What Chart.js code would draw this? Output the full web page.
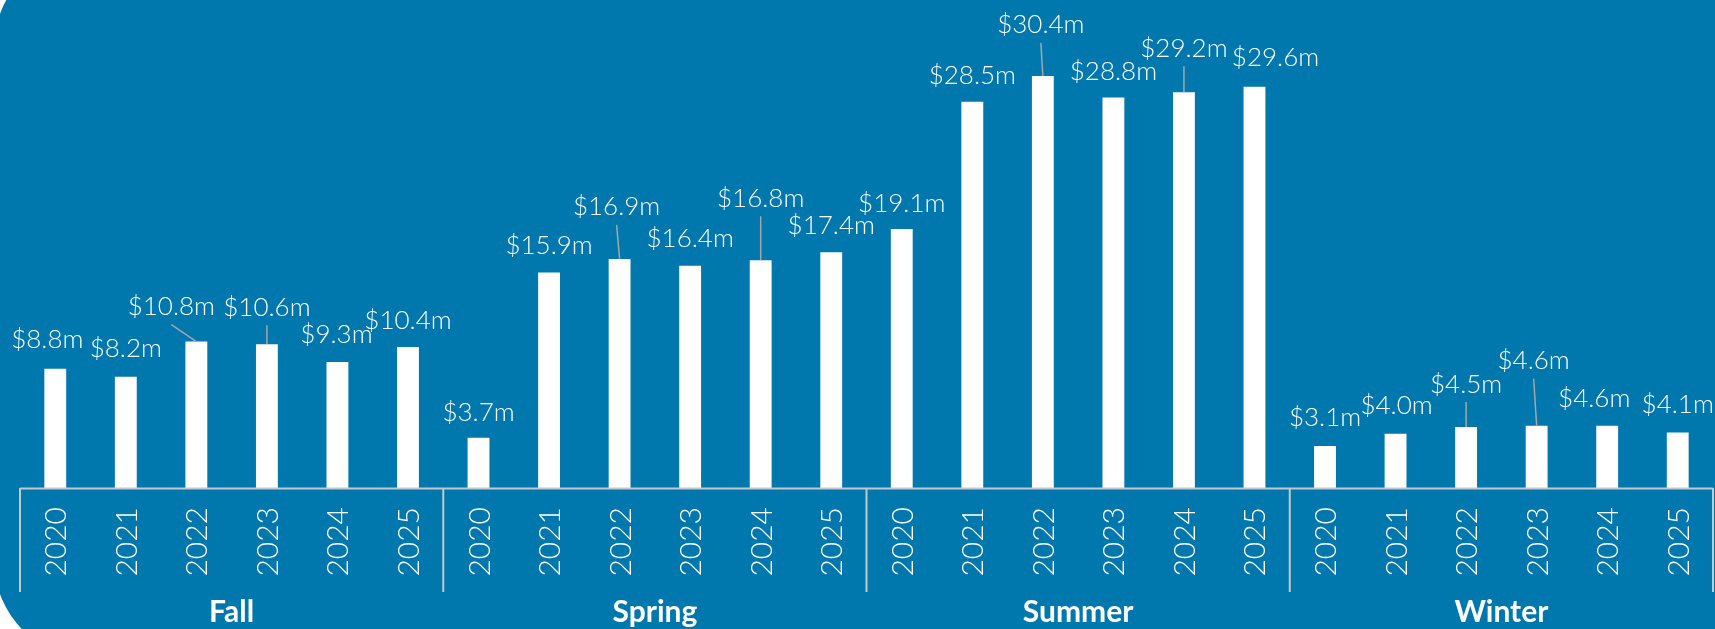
<!DOCTYPE html>
<html>
<head>
<meta charset="utf-8">
<script src="https://cdn.jsdelivr.net/npm/chart.js@4/dist/chart.umd.min.js"></script>
<style>
    html, body { margin: 0; padding: 0; background: #ffffff; overflow: hidden; }
    .panel {
        position: absolute;
        left: -6px; top: -52px;
        width: 1780px; height: 712px;
        background: #0077ad;
        border-radius: 100px;
    }
    .chartBox { position: absolute; left: 0; top: 0; width: 1715px; height: 629px; }
</style>
</head>
<body>
<div class="panel"></div>
<div class="chartBox"><canvas id="myChart"></canvas></div>
<script>
// data ($ millions)
const seasons = ['Fall', 'Spring', 'Summer', 'Winter'];
const years = ['2020', '2021', '2022', '2023', '2024', '2025'];
const fall = [8.8, 8.2, 10.8, 10.6, 9.3, 10.4];
const spring = [3.7, 15.9, 16.9, 16.4, 16.8, 17.4];
const summer = [19.1, 28.5, 30.4, 28.8, 29.2, 29.6];
const winter = [3.1, 4.0, 4.5, 4.6, 4.6, 4.1];
const yMin = 0;
const yMax = 36;

// where each value label sits, relative to the top of its bar: [dx, dy, leader line]
const labelPlace = [
    [-8, -30, 0], [0, -29, 0], [-25, -36, 1], [0, -38, 1], [-1, -28, 0], [0, -28, 0],
    [0, -26, 0], [0, -28, 0], [-3, -53, 1], [0, -28, 0], [0, -63, 1], [0, -28, 0],
    [0, -27, 0], [0, -27, 0], [-2, -52, 1], [0, -27, 0], [0, -45, 1], [21, -30, 0],
    [0, -29, 0], [1, -29, 0], [0, -44, 1], [-3, -66, 1], [-13, -28, 0], [0, -29, 0]
];

let labels = [];
let values = [];
[fall, spring, summer, winter].forEach(function (arr, s) {
    arr.forEach(function (v, i) {
        labels.push(seasons[s] + ' ' + years[i]);
        values.push(v);
    });
});

const FONT = 'Lato, "Open Sans", sans-serif';

// axis, rotated years, season names and value labels
const drawExtras = {
    id: 'drawExtras',
    afterDatasetsDraw: function (chart) {
        const ctx = chart.ctx;
        const x = chart.scales.x;
        const area = chart.chartArea;
        const meta = chart.getDatasetMeta(0);
        const step = (area.right - area.left) / values.length;
        ctx.save();

        // baseline and group separators
        ctx.strokeStyle = '#c4c8cc';
        ctx.lineWidth = 2;
        ctx.beginPath();
        ctx.moveTo(area.left, area.bottom + 0.5);
        ctx.lineTo(area.right, area.bottom + 0.5);
        for (let g = 0; g <= seasons.length; g++) {
            const gx = area.left + g * years.length * step;
            ctx.moveTo(gx, area.bottom);
            ctx.lineTo(gx, area.bottom + 104);
        }
        ctx.stroke();

        // year labels, reading upward
        ctx.fillStyle = '#ffffff';
        ctx.font = '300 30px ' + FONT;
        ctx.textAlign = 'right';
        ctx.textBaseline = 'alphabetic';
        labels.forEach(function (lab, i) {
            const px = x.getPixelForValue(i);
            ctx.save();
            ctx.translate(px + 11, area.bottom + 19);
            ctx.rotate(-Math.PI / 2);
            ctx.fillText(years[i % years.length], 0, 0);
            ctx.restore();
        });

        // season names
        ctx.font = 'bold 30px ' + FONT;
        ctx.textAlign = 'center';
        seasons.forEach(function (s, g) {
            const cx = area.left + (g + 0.5) * years.length * step;
            ctx.fillText(s, cx, area.bottom + 134);
        });

        // value labels with leader lines
        ctx.font = '300 26px ' + FONT;
        meta.data.forEach(function (bar, i) {
            const p = labelPlace[i];
            const lx = bar.x + p[0];
            const ly = bar.y + p[1];
            if (p[2]) {
                ctx.strokeStyle = '#a3a7ab';
                ctx.lineWidth = 1.5;
                ctx.beginPath();
                ctx.moveTo(lx, ly + 19);
                ctx.lineTo(bar.x, bar.y);
                ctx.stroke();
            }
            ctx.fillStyle = '#ffffff';
            ctx.fillText('$' + values[i].toFixed(1) + 'm', lx, ly + 9.5);
        });
        ctx.restore();
    }
};

var ctx = document.getElementById('myChart').getContext('2d');
var chart = new Chart(ctx, {
    type: 'bar',
    data: {
        labels: labels,
        datasets: [{
            data: values,
            backgroundColor: '#ffffff',
            borderWidth: 0,
            categoryPercentage: 1,
            barPercentage: 0.31
        }]
    },
    options: {
        responsive: true,
        maintainAspectRatio: false,
        animation: false,
        layout: { padding: { left: 20, right: 2, top: 0, bottom: 141 } },
        plugins: {
            legend: { display: false },
            tooltip: { enabled: false }
        },
        scales: {
            x: { display: false },
            y: { display: false, min: yMin, max: yMax }
        }
    },
    plugins: [drawExtras]
});
</script>
</body>
</html>
